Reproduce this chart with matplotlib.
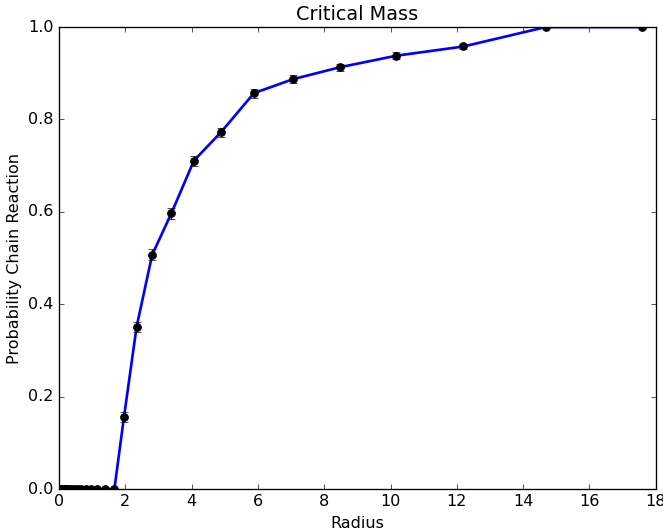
import matplotlib
matplotlib.use('Agg')
import matplotlib.pyplot as plt
import numpy as np

plt.style.use('classic')

# radii and probabilities
radius = [0.05, 0.06, 0.07, 0.09, 0.11, 0.13, 0.16, 0.19, 0.22, 0.27, 0.32,
          0.39, 0.47, 0.56, 0.67, 0.81, 0.97, 1.16, 1.39, 1.67,
          1.96, 2.34, 2.81, 3.39, 4.07, 4.88, 5.88, 7.05, 8.47, 10.17,
          12.2, 14.68, 17.6]
prob = [0.0] * 20 + [0.156, 0.351, 0.507, 0.597, 0.711, 0.772, 0.857,
                     0.887, 0.913, 0.938, 0.958, 1.0, 1.0]
err = [0.0] * 20 + [0.01, 0.011, 0.012, 0.012, 0.011, 0.01, 0.01,
                    0.009, 0.008, 0.007, 0.006, 0.0, 0.0]

dpi = 96
fig = plt.figure(figsize=(663.0 / dpi, 531.0 / dpi), dpi=dpi)
fig.patch.set_facecolor('white')
ax = fig.add_axes([0.089, 0.079, 0.9, 0.87])

ax.plot(radius, prob, 'b-', lw=2)
ax.errorbar(radius, prob, yerr=err, fmt='ko', ms=6, capsize=3, elinewidth=1)

ax.set_xlim(0, 18)
ax.set_ylim(0, 1.0)
ax.set_title('Critical Mass')
ax.set_xlabel('Radius')
ax.set_ylabel('Probability Chain Reaction')

fig.savefig('out.png', dpi=dpi, facecolor='white')
